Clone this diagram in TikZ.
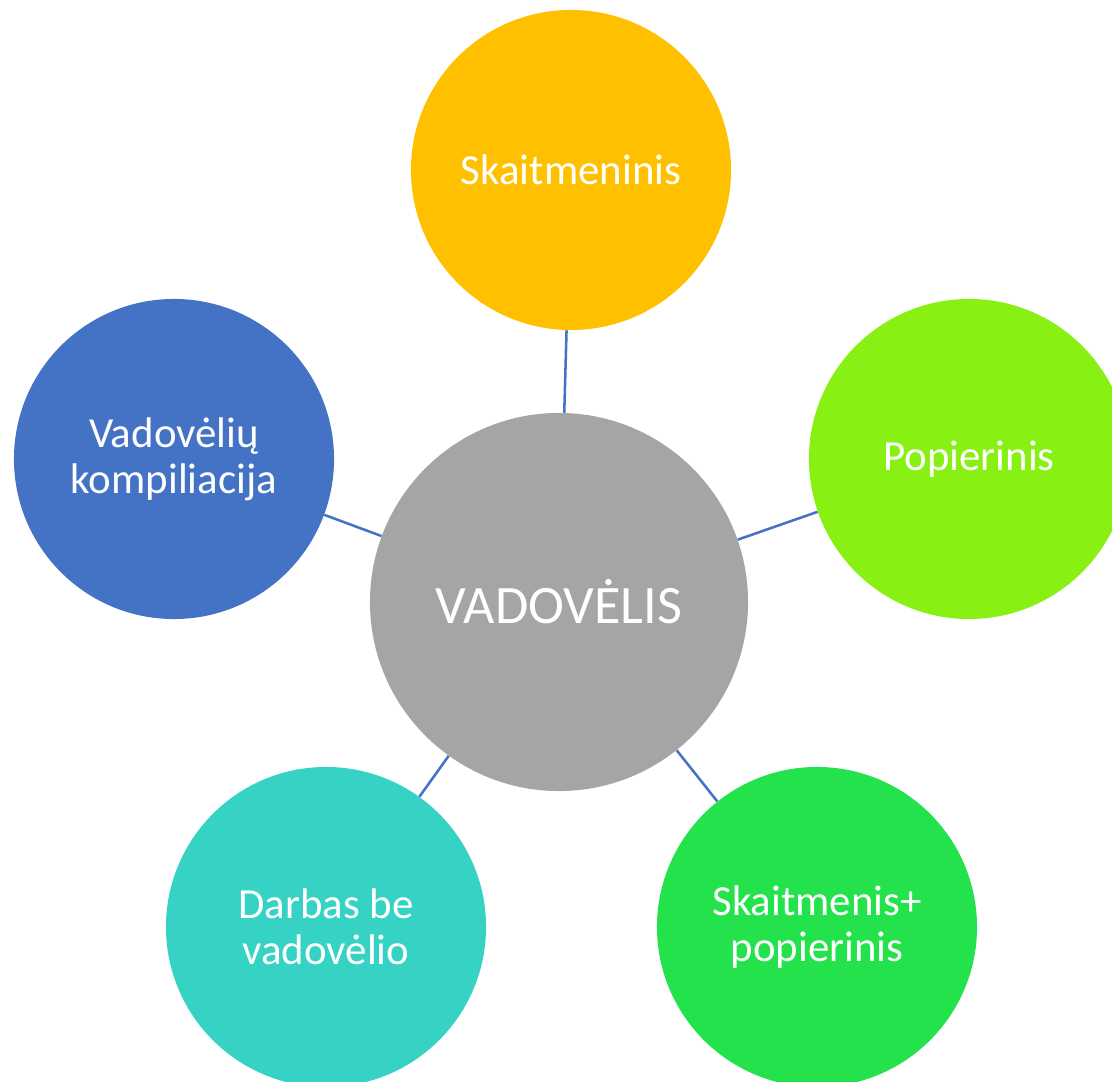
\documentclass[tikz,border=0pt]{standalone}
\usepackage{fontspec}
\setmainfont{Carlito}
\usepackage{tikz}
\usetikzlibrary{positioning}
\definecolor{hubgray}{HTML}{A5A5A5}
\definecolor{digitalyellow}{HTML}{FFC000}
\definecolor{paperlime}{HTML}{88F013}
\definecolor{mixedgreen}{HTML}{23E24B}
\definecolor{withoutteal}{HTML}{36D3C5}
\definecolor{compileblue}{HTML}{4472C4}
\tikzset{
    bubble/.style={
        circle, inner sep=0pt,
        minimum size=8cm,
        text=white, align=center,
        font=\fontsize{30.5pt}{32.5pt}\selectfont,
    },
    link/.style={draw=compileblue, line width=1.8pt},
}

\begin{document}
\begin{tikzpicture}[x=0.025cm, y=0.025cm]
        \useasboundingbox (0,0) rectangle (1112,1081);

        \node (textbook) at(559,479) [
            circle, inner sep=0pt,
            minimum size=9.45cm,
            fill=hubgray,
            text=white,
            font=\fontsize{38.5pt}{42pt}\selectfont,
        ] {VADOVĖLIS};

        \node (digital) at(571,911) [bubble, fill=digitalyellow] {Skaitmeninis};
        \node (paper) at(969,622) [bubble, fill=paperlime] {Popierinis};
        \node (mixed) at(817,154) [bubble, fill=mixedgreen] {Skaitmenis+\\popierinis};
        \node (without) at(326,154) [bubble, fill=withoutteal] {Darbas be\\vadovėlio};
        \node (compilation) at(174,622) [bubble, fill=compileblue] {Vadovėlių\\kompiliacija};

        \draw[link] (textbook) -- (digital);
        \draw[link] (textbook) -- (paper);
        \draw[link] (textbook) -- (mixed);
        \draw[link] (textbook) -- (without);
        \draw[link] (textbook) -- (compilation);
    \end{tikzpicture}
\end{document}
